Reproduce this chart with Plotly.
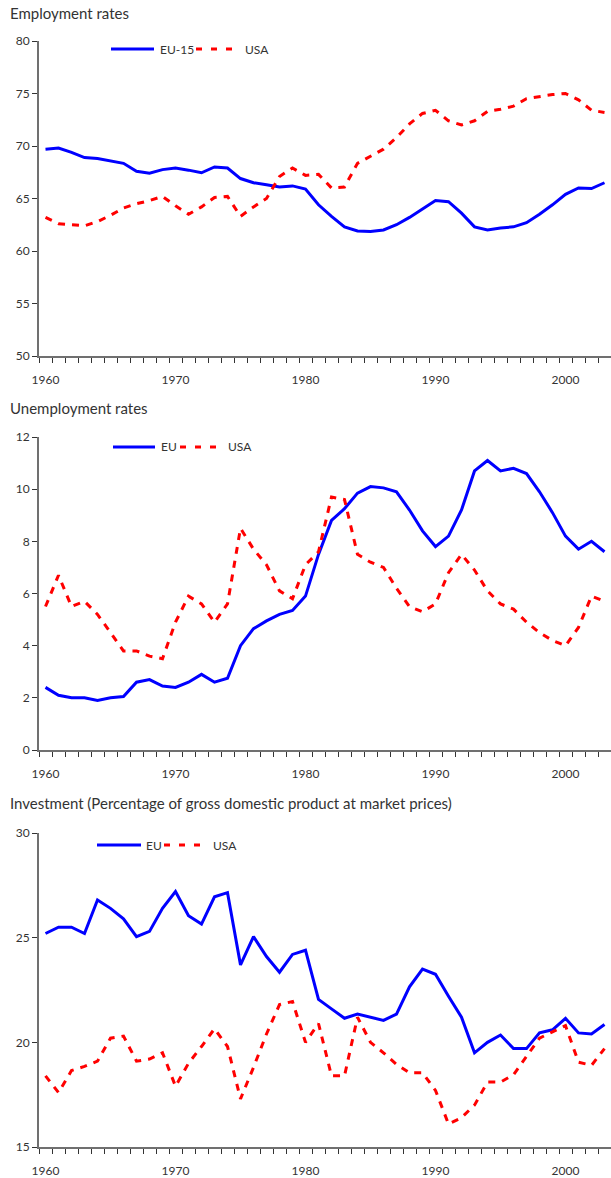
import plotly.graph_objects as go

# ---------------- data ----------------
years = list(range(1960, 2004))

emp_eu15 = [69.7, 69.8, 69.4, 68.9, 68.8, 68.6, 68.35, 67.6, 67.4, 67.75,
            67.9, 67.7, 67.45, 68.0, 67.9, 66.9, 66.5, 66.3, 66.1, 66.2,
            65.9, 64.4, 63.3, 62.3, 61.9, 61.85, 62.0, 62.5, 63.2, 64.0,
            64.8, 64.7, 63.6, 62.3, 62.0, 62.2, 62.3, 62.7, 63.5, 64.4,
            65.4, 66.0, 65.95, 66.5]
emp_usa = [63.2, 62.6, 62.5, 62.4, 62.8, 63.4, 64.1, 64.5, 64.8, 65.2,
           64.3, 63.5, 64.2, 65.1, 65.2, 63.3, 64.2, 65.0, 67.1, 67.9,
           67.2, 67.3, 66.0, 66.1, 68.35, 69.0, 69.7, 70.8, 72.1, 73.1,
           73.4, 72.4, 72.0, 72.4, 73.3, 73.5, 73.8, 74.5, 74.7, 74.9,
           75.0, 74.4, 73.4, 73.2]

unemp_eu = [2.4, 2.1, 2.0, 2.0, 1.9, 2.0, 2.05, 2.6, 2.7, 2.45,
            2.4, 2.6, 2.9, 2.6, 2.75, 4.0, 4.65, 4.95, 5.2, 5.35,
            5.9, 7.5, 8.8, 9.25, 9.85, 10.1, 10.05, 9.9, 9.2, 8.4,
            7.8, 8.2, 9.2, 10.7, 11.1, 10.7, 10.8, 10.6, 9.9, 9.1,
            8.2, 7.7, 8.0, 7.6]
unemp_usa = [5.5, 6.7, 5.5, 5.7, 5.2, 4.5, 3.8, 3.8, 3.6, 3.5,
             4.9, 5.9, 5.6, 4.9, 5.6, 8.5, 7.7, 7.1, 6.1, 5.8,
             7.1, 7.6, 9.7, 9.6, 7.5, 7.2, 7.0, 6.2, 5.5, 5.3,
             5.6, 6.8, 7.5, 6.9, 6.1, 5.6, 5.4, 4.9, 4.5, 4.2,
             4.0, 4.7, 5.9, 5.7]

inv_eu = [25.2, 25.5, 25.5, 25.2, 26.8, 26.4, 25.9, 25.05, 25.3, 26.4,
          27.2, 26.05, 25.65, 26.95, 27.15, 23.7, 25.05, 24.1, 23.35, 24.2,
          24.4, 22.05, 21.6, 21.15, 21.35, 21.2, 21.05, 21.35, 22.65, 23.5,
          23.25, 22.2, 21.2, 19.5, 20.0, 20.35, 19.7, 19.7, 20.45, 20.6,
          21.15, 20.45, 20.4, 20.85]
inv_usa = [18.4, 17.6, 18.65, 18.85, 19.1, 20.2, 20.3, 19.1, 19.2, 19.5,
           17.9, 19.0, 19.8, 20.65, 19.8, 17.3, 18.8, 20.4, 21.8, 21.95,
           20.0, 20.9, 18.4, 18.4, 21.2, 20.0, 19.5, 18.95, 18.55, 18.55,
           17.7, 16.1, 16.4, 17.0, 18.1, 18.1, 18.45, 19.35, 20.2, 20.5,
           20.8, 19.05, 18.9, 19.7]

titles = ["Employment rates",
          "Unemployment rates",
          "Investment (Percentage of gross domestic product at market prices)"]
series_names = [["EU-15", "USA"], ["EU", "USA"], ["EU", "USA"]]
x_tick_years = [1960, 1970, 1980, 1990, 2000]
x_tick_labels = ["1960", "1970", "1980", "1990", "2000"]

# ---------------- layout helpers ----------------
W, H = 611, 1178


def px(x):
    return x / W


def py(y):
    return 1 - y / H


FONT = "Lato, 'Open Sans', sans-serif"
BLUE = "#0000FF"
RED = "#FF0000"
AXIS = "#707070"
TXT = "#333333"

panels = [
    dict(eu=emp_eu15, us=emp_usa, yr=[50, 80], dt=5, top=41, bot=356,
         title_y=13, leg_y=49, leg=[111, 154, 158, 196, 233, 243]),
    dict(eu=unemp_eu, us=unemp_usa, yr=[0, 12], dt=2, top=437, bot=750,
         title_y=408, leg_y=447, leg=[113, 155, 159, 180, 216, 226]),
    dict(eu=inv_eu, us=inv_usa, yr=[15, 30], dt=5, top=833, bot=1147,
         title_y=803, leg_y=845, leg=[97, 141, 144, 164, 201, 211]),
]

fig = go.Figure()
shapes = []
annotations = []
layout = dict(
    width=W, height=H,
    margin=dict(l=0, r=0, t=0, b=0),
    paper_bgcolor="white", plot_bgcolor="white",
    showlegend=False,
    font=dict(family=FONT, color=TXT, size=12),
)

for i, p in enumerate(panels):
    n = i + 1
    xa = "x" if n == 1 else f"x{n}"
    ya = "y" if n == 1 else f"y{n}"
    fig.add_trace(go.Scatter(x=years, y=p["eu"], mode="lines", name=series_names[i][0],
                             line=dict(color=BLUE, width=3), xaxis=xa, yaxis=ya))
    fig.add_trace(go.Scatter(x=years, y=p["us"], mode="lines", name=series_names[i][1],
                             line=dict(color=RED, width=3, dash="7px,7px"), xaxis=xa, yaxis=ya))

    dom_y = [py(p["bot"]), py(p["top"])]
    layout[f"xaxis{'' if n == 1 else n}"] = dict(
        domain=[px(39), 1], anchor=ya, range=[1959.5, 2003.5],
        showgrid=False, zeroline=False, showline=True, linecolor=AXIS, linewidth=2,
        tickmode="array", tickvals=x_tick_years, ticktext=x_tick_labels,
        ticks="outside", ticklen=12, tickcolor="rgba(0,0,0,0)",
        tickfont=dict(family=FONT, size=12, color=TXT),
        minor=dict(ticks="outside", tick0=1959.5, dtick=1, ticklen=5,
                   tickcolor="#333333", tickwidth=1, showgrid=False),
        automargin=False, fixedrange=True,
    )
    layout[f"yaxis{'' if n == 1 else n}"] = dict(
        domain=dom_y, anchor=xa, range=p["yr"],
        showgrid=False, zeroline=False, showline=True, linecolor=AXIS, linewidth=2,
        tick0=p["yr"][0], dtick=p["dt"], ticks="outside", ticklen=5,
        tickcolor="#333333", tickwidth=1,
        tickfont=dict(family=FONT, size=12, color=TXT),
        automargin=False, fixedrange=True,
    )

    annotations.append(dict(text=titles[i], x=px(8), y=py(p["title_y"]), xref="paper", yref="paper",
                            xanchor="left", yanchor="middle", showarrow=False,
                            font=dict(family=FONT, size=15, color=TXT)))
    l = p["leg"]
    ly = py(p["leg_y"])
    shapes.append(dict(type="line", xref="paper", yref="paper", x0=px(l[0]), x1=px(l[1]), y0=ly, y1=ly,
                       line=dict(color=BLUE, width=3)))
    shapes.append(dict(type="line", xref="paper", yref="paper", x0=px(l[3]), x1=px(l[4]), y0=ly, y1=ly,
                       line=dict(color=RED, width=3, dash="6px,9px")))
    annotations.append(dict(text=series_names[i][0], x=px(l[2]), y=ly, xref="paper", yref="paper",
                            xanchor="left", yanchor="middle", showarrow=False,
                            font=dict(family=FONT, size=12, color=TXT)))
    annotations.append(dict(text=series_names[i][1], x=px(l[5]), y=ly, xref="paper", yref="paper",
                            xanchor="left", yanchor="middle", showarrow=False,
                            font=dict(family=FONT, size=12, color=TXT)))

layout["shapes"] = shapes
layout["annotations"] = annotations
fig.update_layout(**layout)
fig.write_html(
    "out.html",
    config={"displayModeBar": False},
    post_script="document.body.style.margin='0';document.body.style.overflow='hidden';",
)
